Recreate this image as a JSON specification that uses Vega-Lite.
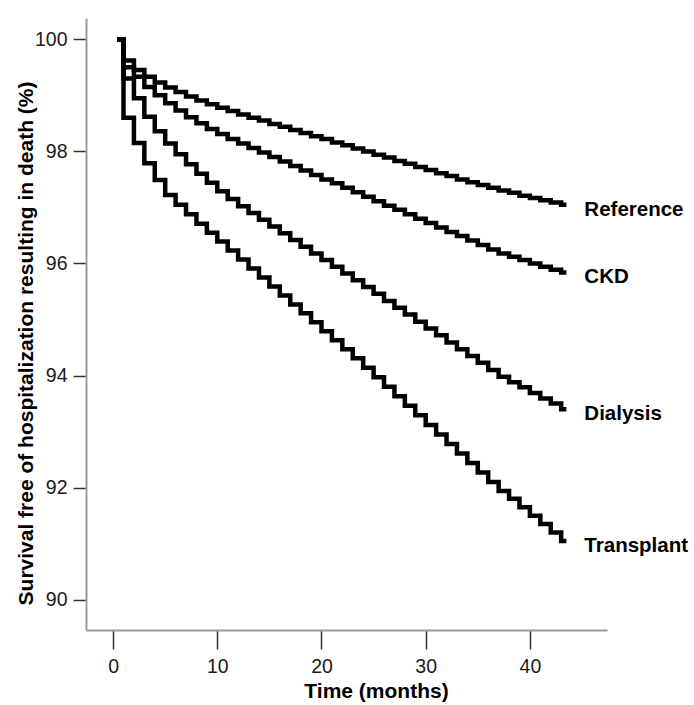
{
  "$schema": "https://vega.github.io/schema/vega-lite/v6.json",
  "width": 521,
  "height": 612,
  "autosize": {"type": "none"},
  "padding": {"left": 86, "top": 18, "right": 87, "bottom": 75},
  "background": "white",
  "config": {"view": {"stroke": null}, "font": "Liberation Sans"},
  "datasets": {
    "km": [
      {"g":"Reference","t":0.4,"v":100},{"g":"Reference","t":1,"v":99.62},{"g":"Reference","t":2,"v":99.45},{"g":"Reference","t":3,"v":99.33},{"g":"Reference","t":4,"v":99.23},{"g":"Reference","t":5,"v":99.14},{"g":"Reference","t":6,"v":99.06},{"g":"Reference","t":7,"v":98.98},{"g":"Reference","t":8,"v":98.91},{"g":"Reference","t":9,"v":98.84},{"g":"Reference","t":10,"v":98.78},{"g":"Reference","t":11,"v":98.72},{"g":"Reference","t":12,"v":98.66},{"g":"Reference","t":13,"v":98.60},{"g":"Reference","t":14,"v":98.55},{"g":"Reference","t":15,"v":98.49},{"g":"Reference","t":16,"v":98.44},{"g":"Reference","t":17,"v":98.38},{"g":"Reference","t":18,"v":98.33},{"g":"Reference","t":19,"v":98.27},{"g":"Reference","t":20,"v":98.22},{"g":"Reference","t":21,"v":98.16},{"g":"Reference","t":22,"v":98.11},{"g":"Reference","t":23,"v":98.05},{"g":"Reference","t":24,"v":98.00},{"g":"Reference","t":25,"v":97.94},{"g":"Reference","t":26,"v":97.89},{"g":"Reference","t":27,"v":97.83},{"g":"Reference","t":28,"v":97.78},{"g":"Reference","t":29,"v":97.72},{"g":"Reference","t":30,"v":97.67},{"g":"Reference","t":31,"v":97.61},{"g":"Reference","t":32,"v":97.56},{"g":"Reference","t":33,"v":97.50},{"g":"Reference","t":34,"v":97.45},{"g":"Reference","t":35,"v":97.40},{"g":"Reference","t":36,"v":97.35},{"g":"Reference","t":37,"v":97.30},{"g":"Reference","t":38,"v":97.26},{"g":"Reference","t":39,"v":97.21},{"g":"Reference","t":40,"v":97.17},{"g":"Reference","t":41,"v":97.13},{"g":"Reference","t":42,"v":97.09},{"g":"Reference","t":43,"v":97.05},{"g":"Reference","t":43.5,"v":97.05},
      {"g":"CKD","t":0.4,"v":100},{"g":"CKD","t":1,"v":99.50},{"g":"CKD","t":2,"v":99.33},{"g":"CKD","t":3,"v":99.15},{"g":"CKD","t":4,"v":99.00},{"g":"CKD","t":5,"v":98.86},{"g":"CKD","t":6,"v":98.73},{"g":"CKD","t":7,"v":98.61},{"g":"CKD","t":8,"v":98.50},{"g":"CKD","t":9,"v":98.40},{"g":"CKD","t":10,"v":98.31},{"g":"CKD","t":11,"v":98.22},{"g":"CKD","t":12,"v":98.14},{"g":"CKD","t":13,"v":98.06},{"g":"CKD","t":14,"v":97.98},{"g":"CKD","t":15,"v":97.90},{"g":"CKD","t":16,"v":97.82},{"g":"CKD","t":17,"v":97.74},{"g":"CKD","t":18,"v":97.66},{"g":"CKD","t":19,"v":97.58},{"g":"CKD","t":20,"v":97.50},{"g":"CKD","t":21,"v":97.43},{"g":"CKD","t":22,"v":97.35},{"g":"CKD","t":23,"v":97.27},{"g":"CKD","t":24,"v":97.19},{"g":"CKD","t":25,"v":97.11},{"g":"CKD","t":26,"v":97.03},{"g":"CKD","t":27,"v":96.96},{"g":"CKD","t":28,"v":96.88},{"g":"CKD","t":29,"v":96.80},{"g":"CKD","t":30,"v":96.72},{"g":"CKD","t":31,"v":96.64},{"g":"CKD","t":32,"v":96.56},{"g":"CKD","t":33,"v":96.49},{"g":"CKD","t":34,"v":96.41},{"g":"CKD","t":35,"v":96.33},{"g":"CKD","t":36,"v":96.25},{"g":"CKD","t":37,"v":96.18},{"g":"CKD","t":38,"v":96.12},{"g":"CKD","t":39,"v":96.06},{"g":"CKD","t":40,"v":96.00},{"g":"CKD","t":41,"v":95.94},{"g":"CKD","t":42,"v":95.89},{"g":"CKD","t":43,"v":95.84},{"g":"CKD","t":43.5,"v":95.84},
      {"g":"Dialysis","t":0.4,"v":100},{"g":"Dialysis","t":1,"v":99.30},{"g":"Dialysis","t":2,"v":98.95},{"g":"Dialysis","t":3,"v":98.62},{"g":"Dialysis","t":4,"v":98.36},{"g":"Dialysis","t":5,"v":98.14},{"g":"Dialysis","t":6,"v":97.95},{"g":"Dialysis","t":7,"v":97.77},{"g":"Dialysis","t":8,"v":97.60},{"g":"Dialysis","t":9,"v":97.44},{"g":"Dialysis","t":10,"v":97.29},{"g":"Dialysis","t":11,"v":97.15},{"g":"Dialysis","t":12,"v":97.02},{"g":"Dialysis","t":13,"v":96.90},{"g":"Dialysis","t":14,"v":96.78},{"g":"Dialysis","t":15,"v":96.66},{"g":"Dialysis","t":16,"v":96.54},{"g":"Dialysis","t":17,"v":96.42},{"g":"Dialysis","t":18,"v":96.30},{"g":"Dialysis","t":19,"v":96.18},{"g":"Dialysis","t":20,"v":96.06},{"g":"Dialysis","t":21,"v":95.94},{"g":"Dialysis","t":22,"v":95.82},{"g":"Dialysis","t":23,"v":95.70},{"g":"Dialysis","t":24,"v":95.58},{"g":"Dialysis","t":25,"v":95.46},{"g":"Dialysis","t":26,"v":95.33},{"g":"Dialysis","t":27,"v":95.21},{"g":"Dialysis","t":28,"v":95.09},{"g":"Dialysis","t":29,"v":94.96},{"g":"Dialysis","t":30,"v":94.84},{"g":"Dialysis","t":31,"v":94.72},{"g":"Dialysis","t":32,"v":94.59},{"g":"Dialysis","t":33,"v":94.47},{"g":"Dialysis","t":34,"v":94.35},{"g":"Dialysis","t":35,"v":94.23},{"g":"Dialysis","t":36,"v":94.10},{"g":"Dialysis","t":37,"v":93.98},{"g":"Dialysis","t":38,"v":93.88},{"g":"Dialysis","t":39,"v":93.79},{"g":"Dialysis","t":40,"v":93.69},{"g":"Dialysis","t":41,"v":93.59},{"g":"Dialysis","t":42,"v":93.50},{"g":"Dialysis","t":43,"v":93.40},{"g":"Dialysis","t":43.5,"v":93.40},
      {"g":"Transplant","t":0.4,"v":100},{"g":"Transplant","t":1,"v":98.60},{"g":"Transplant","t":2,"v":98.15},{"g":"Transplant","t":3,"v":97.79},{"g":"Transplant","t":4,"v":97.49},{"g":"Transplant","t":5,"v":97.22},{"g":"Transplant","t":6,"v":97.05},{"g":"Transplant","t":7,"v":96.88},{"g":"Transplant","t":8,"v":96.71},{"g":"Transplant","t":9,"v":96.55},{"g":"Transplant","t":10,"v":96.39},{"g":"Transplant","t":11,"v":96.23},{"g":"Transplant","t":12,"v":96.07},{"g":"Transplant","t":13,"v":95.91},{"g":"Transplant","t":14,"v":95.75},{"g":"Transplant","t":15,"v":95.59},{"g":"Transplant","t":16,"v":95.43},{"g":"Transplant","t":17,"v":95.27},{"g":"Transplant","t":18,"v":95.11},{"g":"Transplant","t":19,"v":94.95},{"g":"Transplant","t":20,"v":94.79},{"g":"Transplant","t":21,"v":94.63},{"g":"Transplant","t":22,"v":94.47},{"g":"Transplant","t":23,"v":94.31},{"g":"Transplant","t":24,"v":94.14},{"g":"Transplant","t":25,"v":93.97},{"g":"Transplant","t":26,"v":93.80},{"g":"Transplant","t":27,"v":93.63},{"g":"Transplant","t":28,"v":93.46},{"g":"Transplant","t":29,"v":93.29},{"g":"Transplant","t":30,"v":93.12},{"g":"Transplant","t":31,"v":92.95},{"g":"Transplant","t":32,"v":92.78},{"g":"Transplant","t":33,"v":92.61},{"g":"Transplant","t":34,"v":92.44},{"g":"Transplant","t":35,"v":92.27},{"g":"Transplant","t":36,"v":92.10},{"g":"Transplant","t":37,"v":91.94},{"g":"Transplant","t":38,"v":91.80},{"g":"Transplant","t":39,"v":91.65},{"g":"Transplant","t":40,"v":91.50},{"g":"Transplant","t":41,"v":91.35},{"g":"Transplant","t":42,"v":91.20},{"g":"Transplant","t":43,"v":91.05},{"g":"Transplant","t":43.5,"v":91.05}
    ]
  },
  "data": {"name": "km"},
  "encoding": {
    "x": {
      "field": "t", "type": "quantitative",
      "scale": {"domain": [-2.6, 47.4], "nice": false, "zero": false},
      "axis": {
        "title": "Time (months)", "values": [0, 10, 20, 30, 40], "grid": false,
        "domainColor": "#9a9a9a", "domainWidth": 2,
        "tickColor": "#333333", "tickWidth": 1.5, "tickSize": 19,
        "labelFont": "Liberation Sans", "labelFontSize": 19.5, "labelColor": "#1a1a1a", "labelPadding": 8,
        "titleFont": "Liberation Sans", "titleFontSize": 21, "titleFontWeight": "bold", "titleColor": "#000000",
        "titleX": 290, "titleY": 67, "titleAlign": "center", "titleBaseline": "alphabetic"
      }
    },
    "y": {
      "field": "v", "type": "quantitative",
      "scale": {"domain": [89.46, 100.38], "nice": false, "zero": false},
      "axis": {
        "title": "Survival free of hospitalization resulting in death (%)", "values": [90, 92, 94, 96, 98, 100], "grid": false,
        "domainColor": "#9a9a9a", "domainWidth": 2,
        "tickColor": "#333333", "tickWidth": 1.5, "tickSize": 13,
        "labelFont": "Liberation Sans", "labelFontSize": 19.5, "labelColor": "#1a1a1a", "labelPadding": 6,
        "titleFont": "Liberation Sans", "titleFontSize": 21, "titleFontWeight": "bold", "titleColor": "#000000",
        "titleX": -54, "titleY": 325, "titleAlign": "center", "titleBaseline": "alphabetic", "titleAngle": -90
      }
    }
  },
  "layer": [
    {
      "mark": {"type": "line", "interpolate": "step-after", "color": "#000000", "strokeWidth": 4.5, "strokeJoin": "miter"},
      "encoding": {"detail": {"field": "g"}}
    },
    {
      "transform": [{"filter": "datum.t == 43.5"}],
      "mark": {"type": "text", "align": "left", "baseline": "middle", "dx": 18, "dy": 5, "fontSize": 20.5, "fontWeight": "bold", "font": "Liberation Sans", "color": "#000000"},
      "encoding": {"text": {"field": "g"}}
    }
  ]
}
